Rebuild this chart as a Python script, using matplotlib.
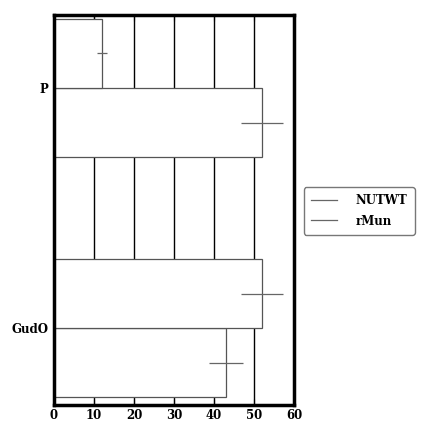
import matplotlib
matplotlib.use('Agg')
import matplotlib.pyplot as plt
from matplotlib.lines import Line2D
import numpy as np

categories = ['GudO', 'P']
series_names = ['NUTWT', 'rMun']
nutwt_values = [43, 52]
nutwt_errors = [4.2, 5.2]
rmun_values = [52, 12]
rmun_errors = [5.2, 1.2]
x_ticks = [0, 10, 20, 30, 40, 50, 60]


def main():
    plt.rcParams['font.family'] = ['DejaVu Serif']
    plt.rcParams['font.weight'] = 'bold'

    fig = plt.figure(figsize=(4.38, 4.38), dpi=100)
    ax = fig.add_axes([54 / 438, 33 / 438, 240 / 438, 390 / 438])

    y = np.arange(len(categories))
    h = 0.2875

    ax.barh(y - h / 2, nutwt_values, height=h, xerr=nutwt_errors,
            color='white', edgecolor='#555555', linewidth=0.9,
            error_kw=dict(ecolor='#666666', elinewidth=0.9, capsize=0), zorder=2)
    ax.barh(y + h / 2, rmun_values, height=h, xerr=rmun_errors,
            color='white', edgecolor='#555555', linewidth=0.9,
            error_kw=dict(ecolor='#666666', elinewidth=0.9, capsize=0), zorder=2)

    ax.set_xlim(0, 60)
    ax.set_ylim(-0.32, 1.304)
    ax.set_xticks(x_ticks)
    ax.set_yticks(y)
    ax.set_yticklabels(categories, fontsize=8.5, fontweight='bold')
    for lab in ax.get_xticklabels():
        lab.set_fontsize(8.5)
        lab.set_fontweight('bold')

    ax.xaxis.grid(True, color='black', linewidth=1.0, zorder=0)
    ax.set_axisbelow(True)
    ax.tick_params(axis='x', direction='in', top=True, length=4, width=0.8, pad=3)
    ax.tick_params(axis='y', length=0, pad=4)
    for s in ax.spines.values():
        s.set_linewidth(2.5)

    handles = [Line2D([0], [0], color='#666666', linewidth=0.9) for _ in series_names]
    fig.legend(handles, series_names, loc='center left',
               bbox_to_anchor=(304 / 438, 1 - 211 / 438), fontsize=8.5,
               frameon=True, edgecolor='#555555', fancybox=True,
               borderaxespad=0, handlelength=2.2, handletextpad=1.6,
               borderpad=0.6, labelspacing=0.6)

    plt.savefig('out.png', dpi=100)


if __name__ == '__main__':
    main()
